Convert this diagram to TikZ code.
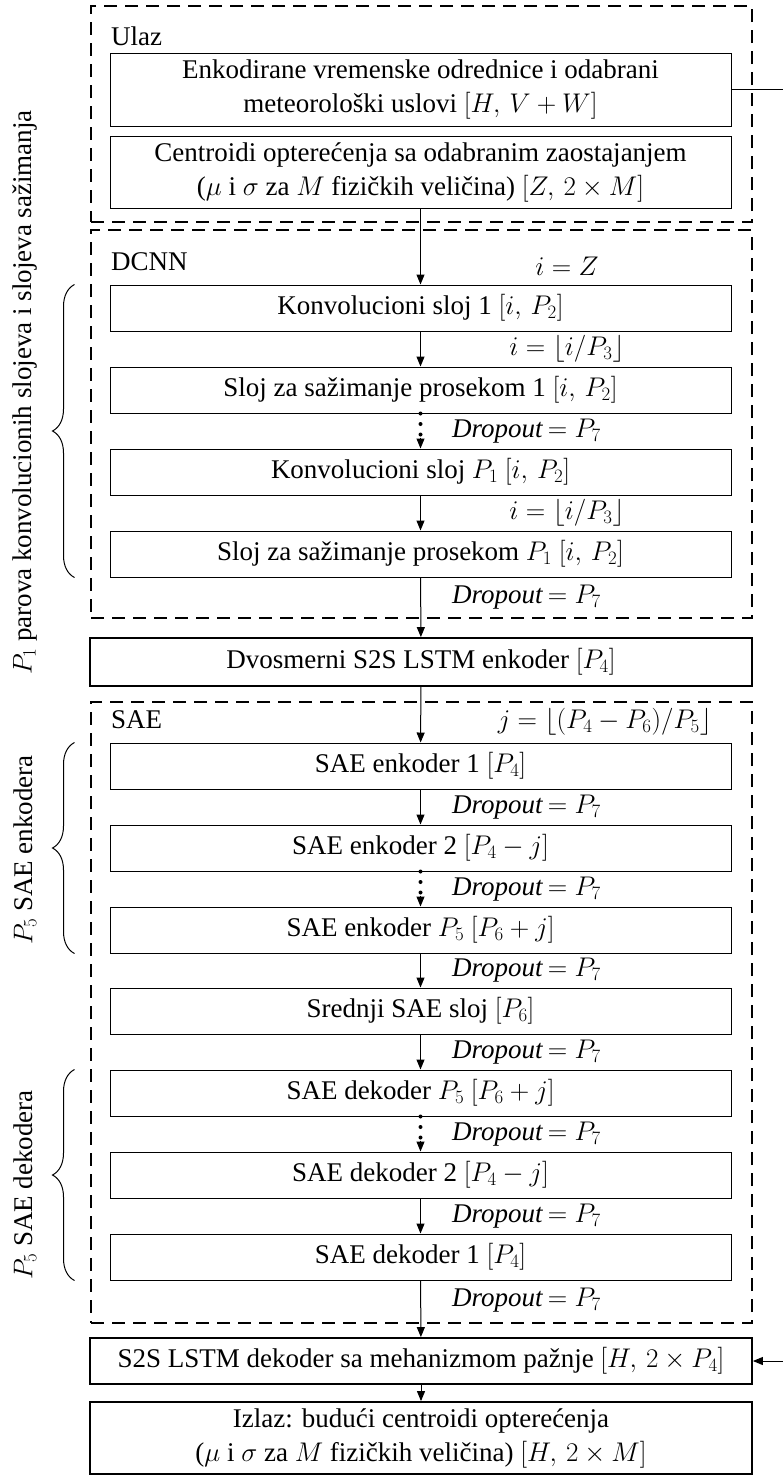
\RequirePackage{fix-cm}
\documentclass[tikz,border=0pt]{standalone}
\usepackage{fontspec}
\setmainfont{Liberation Serif}
\usetikzlibrary{arrows.meta,decorations.pathreplacing,calc}
\newcommand{\dropout}{\textit{Dropout}\,$=P_7$}
\begin{document}
\begin{tikzpicture}[x=1pt,y=-1pt,
  font=\fontsize{27}{34}\selectfont,
  inbox/.style={draw, line width=1pt, minimum width=621pt, minimum height=46pt, inner sep=0pt, align=center},
  wbox/.style={draw, line width=1.8pt, minimum width=662pt, minimum height=46pt, inner sep=0pt, align=center},
  group/.style={draw, line width=2.4pt, dash pattern=on 13pt off 8pt, minimum width=661pt, inner sep=0pt},
  arr/.style={line width=1pt, -{Triangle[length=10pt,width=8pt]}},
  dotline/.style={line width=4pt, line cap=round, dash pattern=on 0pt off 10.5pt, shorten >=13pt},
  tiponly/.style={line width=1pt, -{Triangle[length=10pt,width=8pt]}},
  lbl/.style={inner sep=0pt},
  brc/.style={decorate, decoration={brace, amplitude=22pt}, line width=1pt}]
\useasboundingbox (0,0) rectangle (782,1475);

% dashed groups
\node[group, minimum height=216pt] (g1) at (421.5,114) {};
\node[group, minimum height=388pt] (g2) at (421.5,424) {};
\node[group, minimum height=621pt] (g3) at (421.5,1012.5) {};

% input group
\node[lbl, anchor=west] (tUlaz) at (111,36) {Ulaz};
\node[inbox, minimum height=73pt] (enk) at (420.5,89.5) {Enkodirane vremenske odrednice i odabrani\\meteorološki uslovi $[H,\,V+W]$};
\node[inbox, minimum height=72pt] (cent) at (420.5,172) {Centroidi opterećenja sa odabranim zaostajanjem\\($\mu$ i $\sigma$ za $M$ fizičkih veličina) $[Z,\,2\times M]$};

% DCNN group
\node[lbl, anchor=west] (tDCNN) at (111,262) {DCNN};
\node[lbl] (ti0) at (567,266) {$i=Z$};
\node[inbox] (k1) at (420.5,308) {Konvolucioni sloj 1 $[i,\,P_2]$};
\node[lbl] (ti1) at (567,349) {$i=\lfloor i/P_3\rfloor$};
\node[inbox] (s1) at (420.5,390) {Sloj za sažimanje prosekom 1 $[i,\,P_2]$};
\node[lbl, anchor=west] (td1) at (452,431) {\dropout};
\node[inbox] (kp) at (420.5,472) {Konvolucioni sloj $P_1$ $[i,\,P_2]$};
\node[lbl] (ti2) at (567,513) {$i=\lfloor i/P_3\rfloor$};
\node[inbox] (sp) at (420.5,554) {Sloj za sažimanje prosekom $P_1$ $[i,\,P_2]$};
\node[lbl, anchor=west] (td2) at (452,597) {\dropout};

% encoder
\node[wbox, minimum height=48pt] (bil) at (421,662) {Dvosmerni S2S LSTM enkoder $[P_4]$};

% SAE group
\node[lbl, anchor=west] (tSAE) at (111,720) {SAE};
\node[lbl, anchor=east] (tj) at (712,722) {$j=\lfloor (P_4-P_6)/P_5\rfloor$};
\node[inbox] (e1) at (420.5,766) {SAE enkoder 1 $[P_4]$};
\node[lbl, anchor=west] (td3) at (452,807) {\dropout};
\node[inbox] (e2) at (420.5,848) {SAE enkoder 2 $[P_4-j]$};
\node[lbl, anchor=west] (td4) at (452,889) {\dropout};
\node[inbox] (ep) at (420.5,930) {SAE enkoder $P_5$ $[P_6+j]$};
\node[lbl, anchor=west] (td5) at (452,970) {\dropout};
\node[inbox] (mid) at (420.5,1011) {Srednji SAE sloj $[P_6]$};
\node[lbl, anchor=west] (td6) at (452,1052) {\dropout};
\node[inbox] (dp) at (420.5,1093) {SAE dekoder $P_5$ $[P_6+j]$};
\node[lbl, anchor=west] (td7) at (452,1134) {\dropout};
\node[inbox] (d2) at (420.5,1175) {SAE dekoder 2 $[P_4-j]$};
\node[lbl, anchor=west] (td8) at (452,1216) {\dropout};
\node[inbox] (d1) at (420.5,1257) {SAE dekoder 1 $[P_4]$};
\node[lbl, anchor=west] (td9) at (452,1300) {\dropout};

% decoder and output
\node[wbox] (dec) at (421,1361) {S2S LSTM dekoder sa mehanizmom pažnje $[H,\,2\times P_4]$};
\node[wbox, minimum height=72pt] (out) at (421,1438) {Izlaz: budući centroidi opterećenja\\($\mu$ i $\sigma$ za $M$ fizičkih veličina) $[H,\,2\times M]$};

% flow
\draw[arr] (cent) -- (k1);
\draw[arr] (k1) -- (s1);
\draw[dotline] (s1.south) -- (kp.north);
\draw[tiponly] ($(kp.north)+(0,-11)$) -- (kp.north);
\draw[arr] (kp) -- (sp);
\draw[arr] (sp) -- (bil);
\draw[arr] (bil) -- (e1);
\draw[arr] (e1) -- (e2);
\draw[dotline] (e2.south) -- (ep.north);
\draw[tiponly] ($(ep.north)+(0,-11)$) -- (ep.north);
\draw[arr] (ep) -- (mid);
\draw[arr] (mid) -- (dp);
\draw[dotline] (dp.south) -- (d2.north);
\draw[tiponly] ($(d2.north)+(0,-11)$) -- (d2.north);
\draw[arr] (d2) -- (d1);
\draw[arr] (d1) -- (dec);
\draw[arr] (dec) -- (out);
\draw[arr] (enk.east) -- ++(80,0) |- (dec.east);

% side braces and labels
\draw[brc] ([xshift=-35pt]sp.south west) -- ([xshift=-35pt]k1.north west);
\draw[brc] ([xshift=-35pt]ep.south west) -- ([xshift=-35pt]e1.north west);
\draw[brc] ([xshift=-35pt]d1.south west) -- ([xshift=-35pt]dp.north west);
\node[lbl, rotate=90, anchor=west] (lab1) at (25,675) {$P_1$ parova konvolucionih slojeva i slojeva sažimanja};
\node[lbl, rotate=90] (lab2) at (25,850) {$P_5$ SAE enkodera};
\node[lbl, rotate=90] (lab3) at (25,1185) {$P_5$ SAE dekodera};
\end{tikzpicture}
\end{document}
